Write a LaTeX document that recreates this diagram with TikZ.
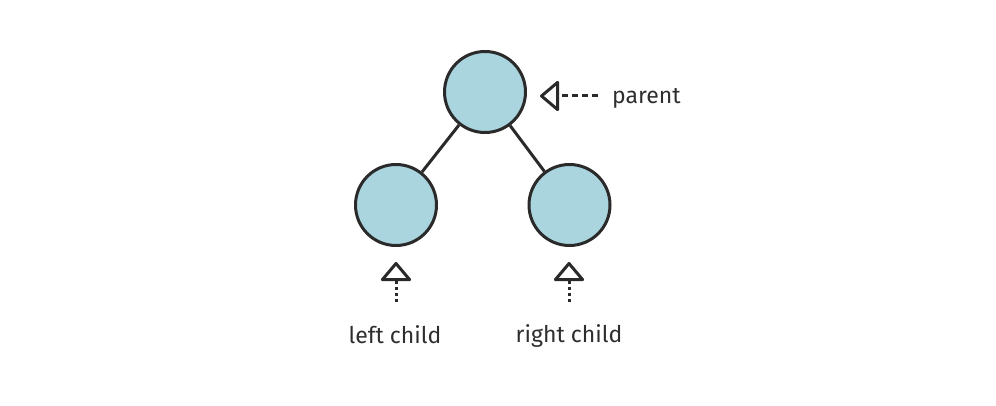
\documentclass[tikz,border=0pt]{standalone}
\usepackage{fontspec}
\setmainfont{Fira Sans}
\usetikzlibrary{arrows.meta}
\definecolor{nodefill}{HTML}{AAD5DE}
\definecolor{ink}{HTML}{2A2A2A}
\definecolor{txt}{HTML}{2E2E2E}
\begin{document}
\begin{tikzpicture}[x=1pt,y=-1pt,
  treenode/.style={circle,draw=ink,fill=nodefill,line width=3pt,minimum size=81pt,inner sep=0pt},
  edge/.style={draw=ink,line width=3pt},
  opentip/.style={-{Triangle[open,round,length=20pt,width=33pt,line width=3pt]}},
  hpointer/.style={draw=ink,line width=3pt,dash pattern=on 6pt off 4pt,opentip},
  vpointer/.style={draw=ink,line width=3pt,dash pattern=on 3pt off 3pt,opentip},
  lbl/.style={text=txt,font=\fontsize{23}{26}\selectfont,inner sep=0pt}]
\useasboundingbox (0,0) rectangle (996,406);
\node[treenode] (p) at (485,92) {};
\node[treenode] (l) at (396,205) {};
\node[treenode] (r) at (569.5,205) {};
\draw[edge] (p) -- (l);
\draw[edge] (p) -- (r);
% parent pointer
\node[lbl,anchor=base west] (pl) at (612,104) {parent};
\coordinate (ps) at (598,96);
\coordinate (pt) at (540,96);
\draw[hpointer] (ps) -- (pt);
% left child pointer
\node[lbl,anchor=base] (ll) at (395,343) {left child};
\coordinate (ls) at (396,302);
\coordinate (lt) at (396,262);
\draw[vpointer] (ls) -- (lt);
% right child pointer
\node[lbl,anchor=base] (rl) at (569,342) {right child};
\coordinate (rs) at (569,302);
\coordinate (rt) at (569,262);
\draw[vpointer] (rs) -- (rt);
\end{tikzpicture}
\end{document}
